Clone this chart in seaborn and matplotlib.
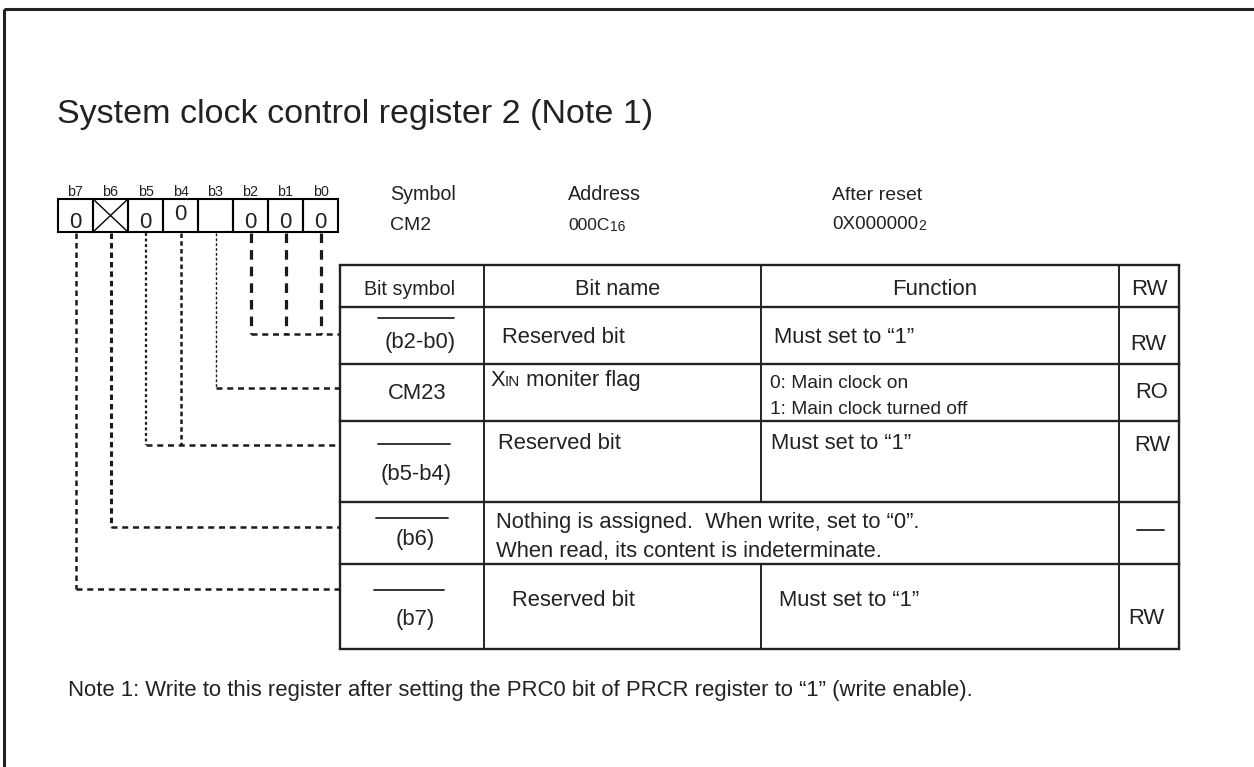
import matplotlib
matplotlib.use("Agg")
import matplotlib.pyplot as plt
import seaborn as sns

sns.set_theme(style="white")
plt.rcParams['font.family'] = ['Liberation Sans', 'DejaVu Sans']

# ---------------- data ----------------
title = "System clock control register 2 (Note 1)"
bit_labels = ["b7", "b6", "b5", "b4", "b3", "b2", "b1", "b0"]
bit_values = ["0", "X", "0", "0", "", "0", "0", "0"]
reg_symbol = "CM2"
reg_address = ("000C", "16")
reg_reset = ("0X000000", "2")
headers = ["Bit symbol", "Bit name", "Function", "RW"]
row_symbols = ["(b2-b0)", "CM23", "(b5-b4)", "(b6)", "(b7)"]
row_symbol_bar = [True, False, True, True, True]
row_names = ["Reserved bit", "XIN moniter flag", "Reserved bit", None, "Reserved bit"]
row_functions = ["Must set to \u201c1\u201d",
                 "0: Main clock on\n1: Main clock turned off",
                 "Must set to \u201c1\u201d", None, "Must set to \u201c1\u201d"]
row_merged = [None, None, None,
              "Nothing is assigned.  When write, set to \u201c0\u201d.\nWhen read, its content is indeterminate.",
              None]
row_rw = ["RW", "RO", "RW", "\u2014", "RW"]
row_bits = [[5, 6, 7], [4], [2, 3], [1], [0]]  # bit-cell indices wired to each row
note = "Note 1: Write to this register after setting the PRC0 bit of PRCR register to \u201c1\u201d (write enable)."

TXT = "#222222"
LINE = "#222222"

fig = plt.figure(figsize=(12.54, 7.67), dpi=100)
ax = fig.add_axes([0, 0, 1, 1])
ax.set_xlim(0, 1254)
ax.set_ylim(767, 0)
ax.axis("off")
renderer = fig.canvas.get_renderer()


def right_edge(t):
    bb = t.get_window_extent(renderer=renderer)
    return ax.transData.inverted().transform((bb.x1, bb.y0))[0]


def txt(x, y, s, fs, ha="left", **kw):
    return ax.text(x, y, s, fontsize=fs, color=TXT, ha=ha, va="baseline", **kw)


def text_with_sub(x, y, main, sub, fs, subfs):
    t = txt(x, y, main, fs)
    txt(right_edge(t) + 0.5, y + 1, sub, subfs)


# outer frame (top and left)
ax.plot([3.5, 1254], [8.5, 8.5], color=LINE, lw=2.2, solid_capstyle="butt")
ax.plot([3.5, 3.5], [8.5, 767], color=LINE, lw=2.2, solid_capstyle="butt")

# title
txt(57, 123, title, 24.5)

# bit boxes
bx0, cw, by0, by1 = 58, 35, 199, 232
zero_base = [228, 228, 228, 220, 228, 228, 228, 228]
for i, (lab, val) in enumerate(zip(bit_labels, bit_values)):
    x = bx0 + i * cw
    ax.add_patch(plt.Rectangle((x, by0), cw, by1 - by0, fill=False, ec="black", lw=1.5))
    txt(x + cw / 2, 196.5, lab, 10.3, ha="center")
    if val == "X":
        ax.plot([x, x + cw], [by0, by1], color="black", lw=1.0)
        ax.plot([x, x + cw], [by1, by0], color="black", lw=1.0)
    elif val:
        txt(x + cw / 2, zero_base[i], val, 16, ha="center")

# register info
txt(390, 200.5, "Symbol", 14.2)
txt(390, 230, reg_symbol, 14)
txt(568, 200.5, "Address", 14.2)
text_with_sub(568, 230, reg_address[0], reg_address[1], 12.5, 10)
txt(832, 200.5, "After reset", 14)
text_with_sub(832, 229, reg_reset[0], reg_reset[1], 13.6, 10)

# table geometry
col_x = [340, 484, 761, 1119, 1179]
row_y = [265, 307, 364, 421, 502, 564, 649]
tl = 1.7
for y in row_y:
    ax.plot([col_x[0], col_x[-1]], [y, y], color=LINE, lw=tl, solid_capstyle="projecting")
for j, x in enumerate(col_x):
    if j == 2:
        for r in range(len(row_y) - 1):
            if r == 0 or not row_merged[r - 1]:
                ax.plot([x, x], [row_y[r], row_y[r + 1]], color=LINE, lw=1.4)
    else:
        ax.plot([x, x], [row_y[0], row_y[-1]], color=LINE, lw=tl if j in (0, 4) else 1.4)

# header
txt(410, 295, headers[0], 14.1, ha="center")
txt(618, 295, headers[1], 15.6, ha="center")
txt(935, 295, headers[2], 15.9, ha="center")
txt(1149, 295, headers[3], 15.9, ha="center")

# row layout (pixels)
sym_pos = [(420, 348), (417, 399), (416.5, 480), (415, 544.5), (415, 624.5)]
bar_y = [317.5, None, 444, 518, 590]
bar_x = [(377.5, 454), None, (378, 450), (376, 448), (374, 444)]
name_pos = [(502, 343), (490.5, 386), (497.5, 449), None, (512, 605.5)]
func_pos = [(774, 343), (770, 387.5), (771, 449), None, (779, 605.5)]
func_ml_gap = 26
merged_pos = (495.5, 528, 28.5)
rw_pos = [(1148, 350), (1152, 398.5), (1152, 451), (1150, 530), (1146, 624.5)]
FS = 15.8

for r in range(5):
    sx, sy = sym_pos[r]
    txt(sx, sy, row_symbols[r], FS, ha="center")
    if row_symbol_bar[r]:
        ax.plot(bar_x[r], [bar_y[r], bar_y[r]], color=LINE, lw=1.3)
    if row_names[r]:
        nx, ny = name_pos[r]
        if row_names[r].startswith("XIN"):
            t = txt(nx, ny, "X", FS)
            t2 = txt(right_edge(t), ny, "IN", 11)
            txt(right_edge(t2), ny, row_names[r][3:], FS)
        else:
            txt(nx, ny, row_names[r], FS)
    if row_functions[r]:
        fx, fy = func_pos[r]
        lines = row_functions[r].split("\n")
        if len(lines) > 1:
            for k, line in enumerate(lines):
                txt(fx, fy + k * func_ml_gap, line, 13.8)
        else:
            txt(fx, fy, lines[0], FS)
    if row_merged[r]:
        mx, my, gap = merged_pos
        for k, line in enumerate(row_merged[r].split("\n")):
            txt(mx, my + k * gap, line, FS)
    rx, ry = rw_pos[r]
    if row_rw[r] == "\u2014":
        ax.plot([1137, 1164], [ry, ry], color=LINE, lw=1.3)
    else:
        txt(rx, ry, row_rw[r], FS, ha="center")

# connectors
conn_y = [334, 388, 445, 526.5, 588.5]
vstyles = {
    7: dict(lw=1.8, dashes=(2.2, 1.6)),
    6: dict(lw=2.2, dashes=(1.8, 1.3)),
    5: dict(lw=1.6, dashes=(1.3, 1.2)),
    4: dict(lw=1.8, dashes=(1.8, 1.3)),
    3: dict(lw=1.0, dashes=(2.0, 1.5)),
    2: dict(lw=2.3, dashes=(3.0, 2.2)),
    1: dict(lw=2.3, dashes=(3.0, 2.2)),
    0: dict(lw=2.3, dashes=(3.0, 2.2)),
}
for r, bits in enumerate(row_bits):
    y = conn_y[r]
    xs = []
    for bi in bits:
        bitnum = 7 - bi
        x = bx0 + bi * cw + cw / 2
        xs.append(x)
        st = vstyles[bitnum]
        ax.plot([x, x], [by1 + 1, y], color="#1a1a1a", lw=st["lw"], dashes=st["dashes"])
    ax.plot([min(xs), col_x[0]], [y, y], color="#1a1a1a", lw=1.8, dashes=(2.4, 1.9))

# note
txt(68, 696, note, 15.9)

fig.savefig("out.png", dpi=100, facecolor="white")
